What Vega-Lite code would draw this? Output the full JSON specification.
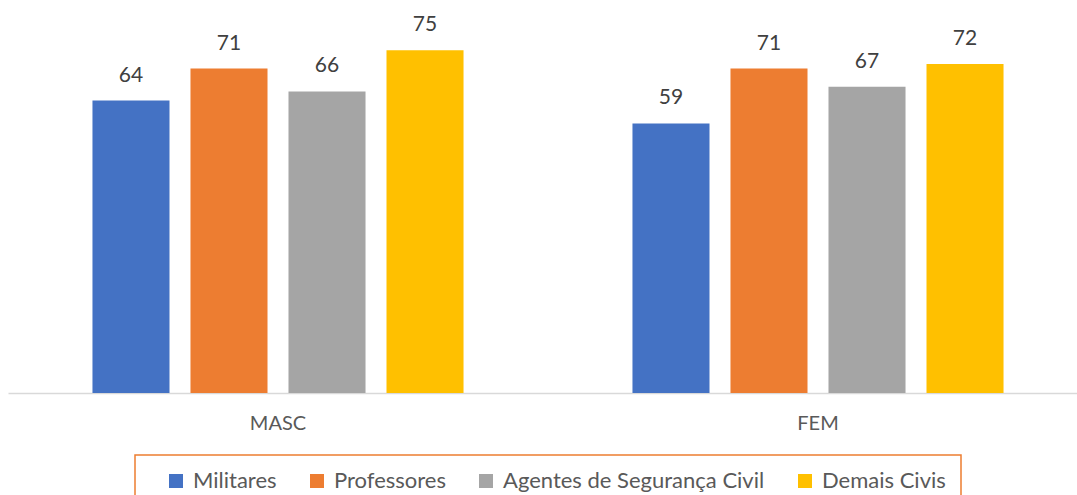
{
  "$schema": "https://vega.github.io/schema/vega-lite/v6.json",
  "width": 1080,
  "height": 393,
  "autosize": {"type": "none"},
  "padding": {"left": 8, "top": 0, "right": 0, "bottom": 102},
  "background": "white",
  "config": {
    "view": {"stroke": null},
    "font": "Lato"
  },
  "data": {
    "values": [
      {"sexo": "MASC", "grupo": "Militares", "valor": 64},
      {"sexo": "MASC", "grupo": "Professores", "valor": 71},
      {"sexo": "MASC", "grupo": "Agentes de Segurança Civil", "valor": 66},
      {"sexo": "MASC", "grupo": "Demais Civis", "valor": 75},
      {"sexo": "FEM", "grupo": "Militares", "valor": 59},
      {"sexo": "FEM", "grupo": "Professores", "valor": 71},
      {"sexo": "FEM", "grupo": "Agentes de Segurança Civil", "valor": 67},
      {"sexo": "FEM", "grupo": "Demais Civis", "valor": 72}
    ]
  },
  "encoding": {
    "x": {
      "field": "sexo", "type": "nominal", "sort": ["MASC", "FEM"],
      "scale": {"paddingInner": 0.274, "paddingOuter": 0.137},
      "axis": {"title": null, "labelAngle": 0, "ticks": false, "domainColor": "#d9d9d9", "domainWidth": 1.5, "labelFontSize": 20, "labelColor": "#595959", "labelFont": "Lato", "labelPadding": 20}
    },
    "xOffset": {
      "field": "grupo", "type": "nominal",
      "sort": ["Militares", "Professores", "Agentes de Segurança Civil", "Demais Civis"],
      "scale": {"paddingInner": 0.214, "paddingOuter": 0.107}
    },
    "y": {
      "field": "valor", "type": "quantitative",
      "scale": {"domain": [0, 86]},
      "axis": null
    }
  },
  "layer": [
    {
      "mark": {"type": "bar"},
      "encoding": {
        "color": {
          "field": "grupo", "type": "nominal",
          "sort": ["Militares", "Professores", "Agentes de Segurança Civil", "Demais Civis"],
          "scale": {"domain": ["Militares", "Professores", "Agentes de Segurança Civil", "Demais Civis"], "range": ["#4472C4", "#ED7D31", "#A5A5A5", "#FFC000"]},
          "legend": {
            "title": null, "orient": "none", "direction": "horizontal", "columns": 4,
            "legendX": 127, "legendY": 455,
            "symbolType": "square", "symbolSize": 196, "symbolStrokeWidth": 0, "symbolOffset": 15,
            "labelFontSize": 22, "labelColor": "#595959", "labelFont": "Lato", "labelLimit": 500,
            "labelOffset": 6, "columnPadding": 14, "padding": 15,
            "strokeColor": "#ED7D31",
            "encode": {"legend": {"update": {"strokeWidth": {"value": 1.5}}}}
          }
        }
      }
    },
    {
      "mark": {"type": "text", "baseline": "bottom", "dy": -15, "fontSize": 21, "color": "#404040", "font": "Lato"},
      "encoding": {"text": {"field": "valor", "type": "quantitative"}}
    }
  ]
}
